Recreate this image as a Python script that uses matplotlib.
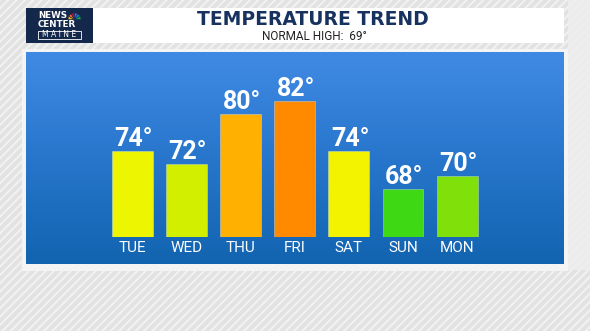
import numpy as np
import matplotlib.pyplot as plt
from matplotlib.patches import Rectangle, Wedge
from matplotlib.colors import LinearSegmentedColormap

plt.rcParams['hatch.linewidth'] = 1.4

# data
days = ['TUE', 'WED', 'THU', 'FRI', 'SAT', 'SUN', 'MON']
highs = [74, 72, 80, 82, 74, 68, 70]
bar_colors = ['#eef500', '#d3ef00', '#ffb000', '#ff8a00', '#f3f300', '#3ed914', '#7fe00a']
title = 'TEMPERATURE TREND'
subtitle = 'NORMAL HIGH:  69°'

W, H = 590, 331
fig = plt.figure(figsize=(W / 100, H / 100), dpi=100)
fig.patch.set_facecolor('#e4e4e4')

# background / frame, drawn in pixel units
bg = fig.add_axes([0, 0, 1, 1])
bg.set_xlim(0, W)
bg.set_ylim(H, 0)
bg.axis('off')
bg.add_patch(Rectangle((0, 0), W, H, facecolor='#e2e2e2', edgecolor='#f2f2f2',
                       hatch='////', lw=0))
bg.add_patch(Rectangle((568, 0), W - 568, 270, facecolor='#eeeeee', lw=0, alpha=0.9))
bg.add_patch(Rectangle((22, 49), 546, 222, facecolor='#f4f4f4', lw=0))
bg.add_patch(Rectangle((26, 8), 538, 35, facecolor='white', lw=0))

# blue gradient panel
grad = LinearSegmentedColormap.from_list('blu', ['#418ae4', '#2776cc', '#1264b0'])
bg.imshow(np.linspace(0, 1, 200).reshape(-1, 1), cmap=grad, aspect='auto',
          extent=(26, 564, 264, 52), origin='upper', zorder=2)
bg.set_xlim(0, W)
bg.set_ylim(H, 0)

# logo
bg.add_patch(Rectangle((26, 8), 67, 35, facecolor='#14284c', lw=0, zorder=3))
bg.text(38, 15.5, 'NEWS', color='white', fontsize=6.3, fontweight='bold',
        family='DejaVu Sans', va='center', ha='left', zorder=4)
bg.text(38, 24.5, 'CENTER', color='white', fontsize=6.3, fontweight='bold',
        family='DejaVu Sans', va='center', ha='left', zorder=4)
bg.add_patch(Rectangle((37.5, 30.5), 43.5, 8.5, facecolor='none', edgecolor='white',
                       lw=0.6, zorder=4))
bg.text(59.5, 34.8, 'M A I N E', color='white', fontsize=5.5, family='DejaVu Sans',
        va='center', ha='center', zorder=4)
# peacock (y axis is inverted, so 180..360 is the upper half)
for i, c in enumerate(['#fcb711', '#f37021', '#cc004c', '#6460aa', '#0089d0', '#0db14b']):
    bg.add_patch(Wedge((74.5, 19.5), 6.5, 180 + i * 30, 210 + i * 30, facecolor=c,
                       edgecolor='#14284c', lw=0.4, zorder=4))

bg.text(313, 19.5, title, color='#17325f', fontsize=13.5, fontweight='bold',
        family='DejaVu Sans', ha='center', va='center', zorder=4)
bg.text(314, 36, subtitle, color='#222222', fontsize=8.5, family='Roboto',
        ha='center', va='center', zorder=4)

# bars
pitch = 54.1
left_px = 132.5 - 0.5 * pitch
base, scale = 60.36, 6.286
top_px = 55
bottom_px = 237
ax = fig.add_axes([left_px / W, (H - bottom_px) / H, 7 * pitch / W, (bottom_px - top_px) / H])
ax.set_xlim(-0.5, 6.5)
ax.set_ylim(base, base + (bottom_px - top_px) / scale)
ax.patch.set_alpha(0)
x = np.arange(len(days))
ax.bar(x, np.array(highs) - base, bottom=base, width=0.757, color=bar_colors,
       edgecolor=(1, 1, 1, 0.35), lw=0.6, zorder=3)
for xi, v in zip(x, highs):
    ax.annotate(f'{v}°', (xi, v), xytext=(1, 0), textcoords='offset points',
                ha='center', va='bottom', color='white', fontsize=18,
                fontweight='bold', family='Roboto')
ax.set_xticks(x, days)
ax.tick_params(axis='x', length=0, pad=3, colors='white', labelsize=11)
for lab in ax.get_xticklabels():
    lab.set_family('Roboto')
ax.set_yticks([])
for s in ax.spines.values():
    s.set_visible(False)

fig.savefig('out.png', dpi=100)
